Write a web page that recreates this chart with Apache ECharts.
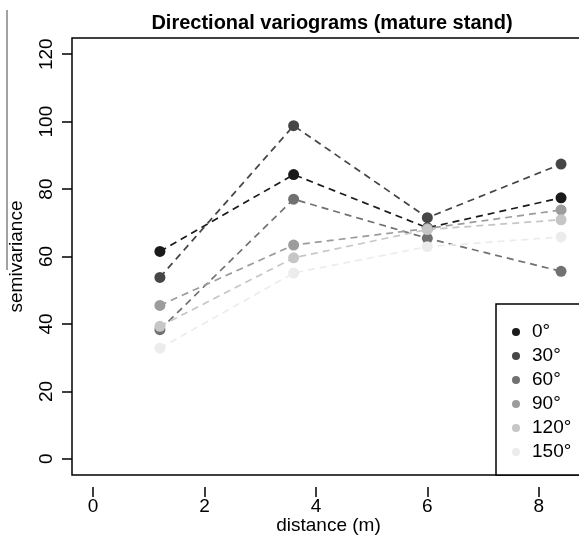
<!DOCTYPE html>
<html>
<head>
<meta charset="utf-8">
<script src="https://cdn.jsdelivr.net/npm/echarts@6/dist/echarts.min.js"></script>
<style>
  html, body { margin: 0; padding: 0; background: #fff; }
  #chart { width: 579px; height: 538px; }
</style>
</head>
<body>
<div id="chart"></div>
<script>
// lag distances (m)
const distances = [1.2, 3.6, 6.0, 8.4];

// direction names and grey levels
const directions = ["0°", "30°", "60°", "90°", "120°", "150°"];
const greys = ["#1a1a1a", "#464646", "#717171", "#9c9c9c", "#c6c6c6", "#ececec"];

// semivariance per direction
const v0 = [61.5, 84.3, 68.5, 77.4];
const v30 = [53.8, 98.8, 71.5, 87.4];
const v60 = [38.3, 77.0, 65.4, 55.6];
const v90 = [45.5, 63.4, 68.3, 73.8];
const v120 = [39.3, 59.6, 68.0, 70.9];
const v150 = [32.8, 55.1, 62.9, 65.8];
const values = [v0, v30, v60, v90, v120, v150];

const xTicks = [0, 2, 4, 6, 8];
const yTicks = [0, 20, 40, 60, 80, 100, 120];

const font = "'Liberation Sans', Arial, sans-serif";

const series = directions.map(function (name, i) {
  return {
    name: name,
    type: "line",
    data: distances.map(function (d, j) { return [d, values[i][j]]; }),
    symbol: "circle",
    symbolSize: 11,
    itemStyle: { color: greys[i] },
    lineStyle: { color: greys[i], width: 1.7, type: [7, 5] },
    emphasis: { disabled: true },
    animation: false
  };
});

const chart = echarts.init(document.getElementById("chart"));
chart.setOption({
  backgroundColor: "#fff",
  animation: false,
  title: {
    text: "Directional variograms (mature stand)",
    left: 327,
    top: 8,
    textAlign: "center",
    textStyle: { fontFamily: font, fontSize: 20, fontWeight: "bold", color: "#000" }
  },
  grid: {
    left: 72, right: -6, top: 38, bottom: 63,
    show: true, borderColor: "#000", borderWidth: 1.5,
    containLabel: false,
    outerBoundsMode: "none"
  },
  legend: {
    orient: "vertical",
    left: 507,
    top: 317,
    z: 10,
    icon: "circle",
    itemWidth: 8,
    itemHeight: 8,
    itemGap: 4,
    data: directions.map(function (d, i) {
      return { name: d, itemStyle: { color: greys[i] } };
    }),
    textStyle: { fontFamily: font, fontSize: 19, lineHeight: 20, color: "#000", padding: [0, 0, 0, 7] }
  },
  xAxis: {
    type: "value",
    min: -0.378,
    max: 8.83,
    offset: 12,
    name: "distance (m)",
    nameLocation: "middle",
    nameGap: 29,
    nameMoveOverlap: false,
    nameTextStyle: { fontFamily: font, fontSize: 19, color: "#000" },
    axisLine: { show: false, onZero: false },
    splitLine: { show: false },
    axisTick: { show: true, length: 10, customValues: xTicks, lineStyle: { color: "#000", width: 1.5 } },
    axisLabel: { customValues: xTicks, margin: 10, fontFamily: font, fontSize: 19, color: "#000" }
  },
  yAxis: {
    type: "value",
    min: -4.8,
    max: 124.8,
    name: "semivariance",
    nameLocation: "middle",
    nameGap: 46,
    nameTextStyle: { fontFamily: font, fontSize: 19, color: "#000" },
    axisLine: { show: false, onZero: false },
    splitLine: { show: false },
    axisTick: { show: true, length: 10, customValues: yTicks, lineStyle: { color: "#000", width: 1.5 } },
    axisLabel: { customValues: yTicks, rotate: 90, margin: 16, fontFamily: font, fontSize: 19, color: "#000" }
  },
  graphic: [
    {
      type: "rect",
      shape: { x: 496, y: 304, width: 100, height: 171 },
      style: { fill: "#fff", stroke: "#000", lineWidth: 1.5 },
      z: 3
    },
    {
      type: "line",
      shape: { x1: 7, y1: 10, x2: 7, y2: 270 },
      style: { stroke: "#444", lineWidth: 1 }
    }
  ],
  series: series
});
</script>
</body>
</html>
